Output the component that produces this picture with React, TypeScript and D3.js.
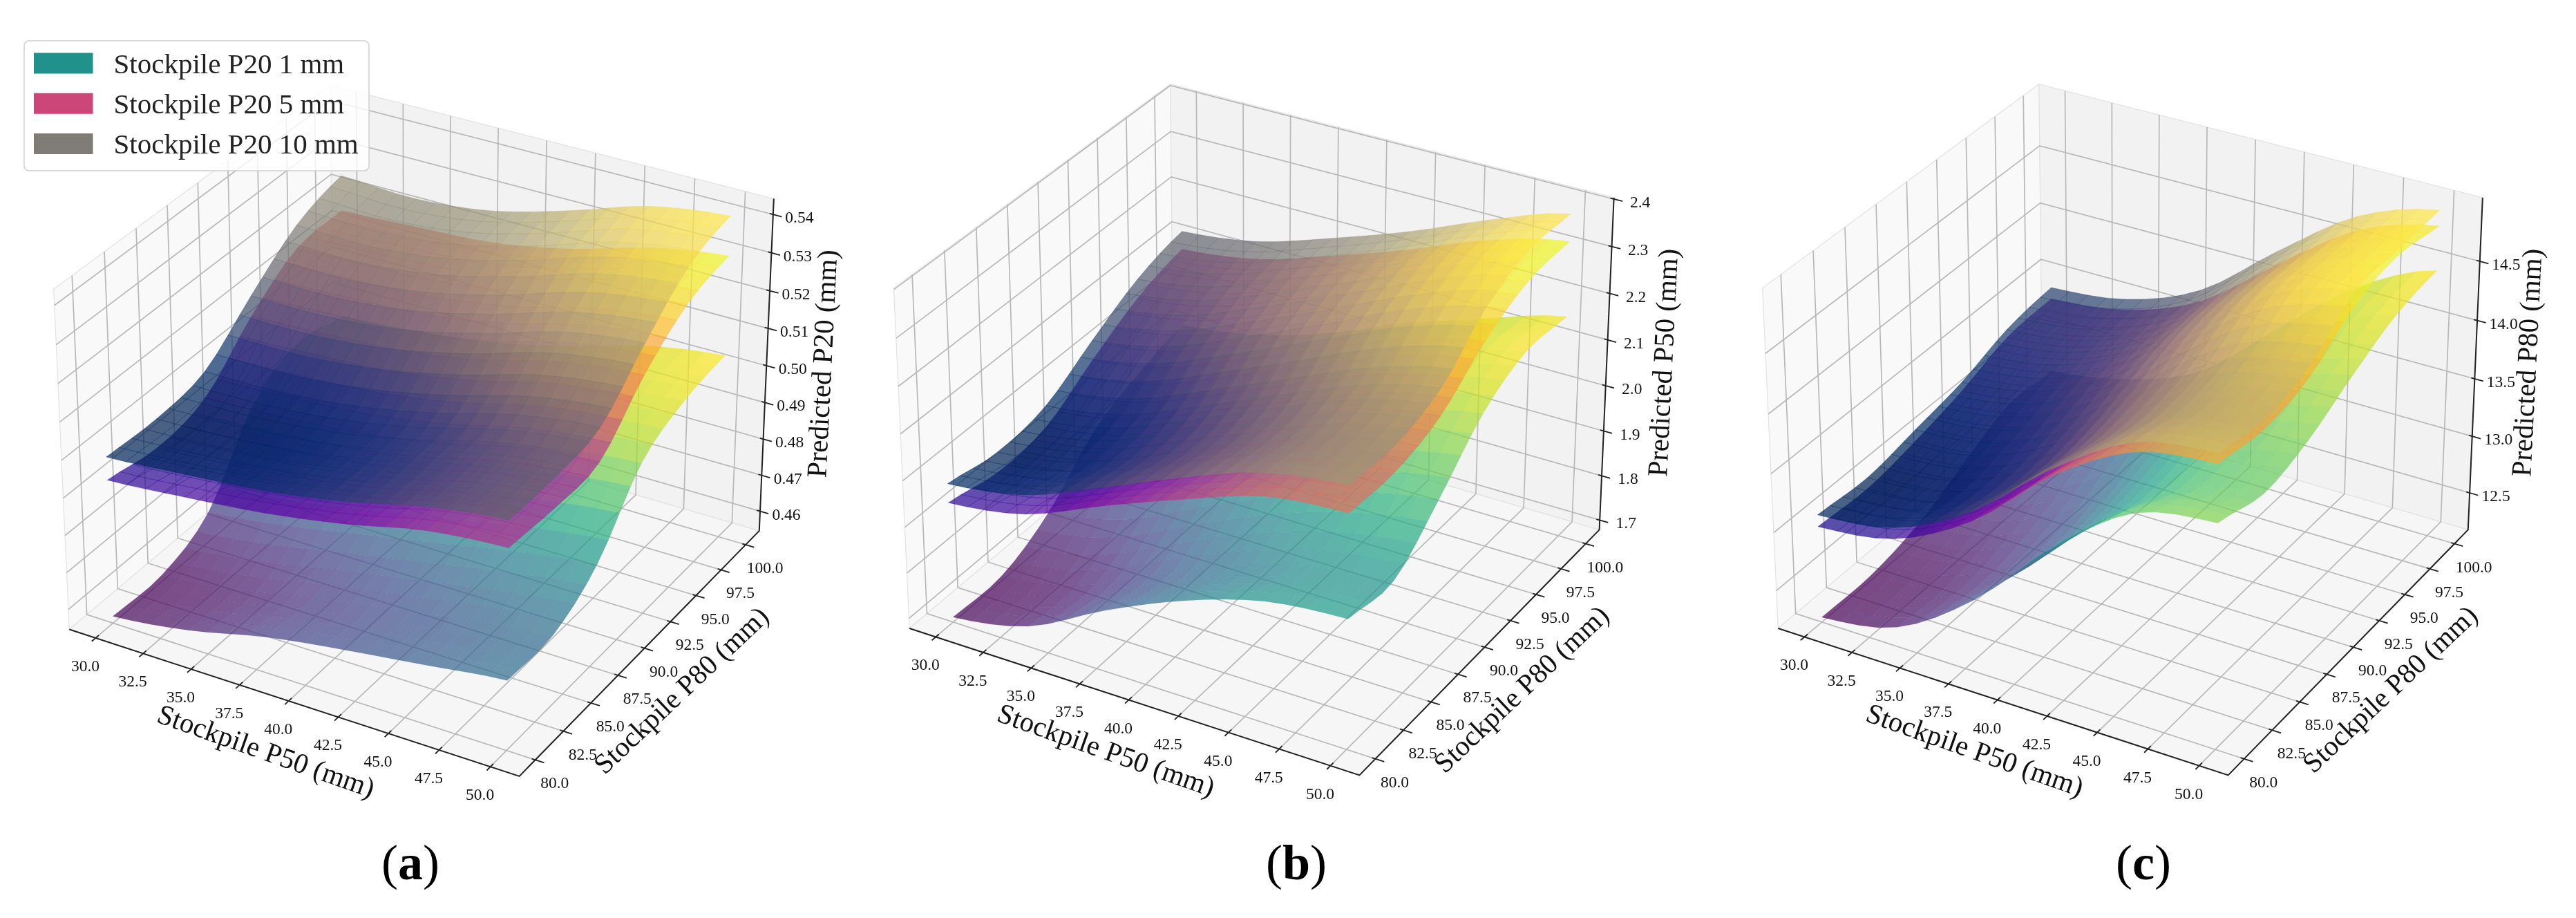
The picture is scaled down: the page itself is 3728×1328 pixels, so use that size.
import * as d3 from 'd3';

const X_TICKS = [30, 32.5, 35, 37.5, 40, 42.5, 45, 47.5, 50];
const Y_TICKS = [80, 82.5, 85, 87.5, 90, 92.5, 95, 97.5, 100];
const X_KNOTS = [30, 34, 38, 42, 46, 50];
const Y_KNOTS = [80, 84, 88, 92, 96, 100];
const X_LIM: [number, number] = [28.6, 51.4];
const Y_LIM: [number, number] = [78.6, 101.4];

// Panel (a) predicted P20, one row per Y knot
const P20_SURFACE_1 = [
  [0.4564, 0.4593, 0.4642, 0.4675, 0.4703, 0.4731],
  [0.4563, 0.4589, 0.4633, 0.4669, 0.4703, 0.4731],
  [0.4627, 0.4653, 0.4693, 0.4733, 0.4775, 0.4806],
  [0.4819, 0.4835, 0.4864, 0.49, 0.4941, 0.4965],
  [0.4887, 0.4898, 0.492, 0.4955, 0.5, 0.5023],
  [0.486, 0.4877, 0.4903, 0.495, 0.501, 0.5042],
];
const P20_SURFACE_5 = [
  [0.4932, 0.495, 0.4972, 0.5007, 0.5054, 0.5074],
  [0.4911, 0.4926, 0.495, 0.4988, 0.504, 0.5065],
  [0.494, 0.495, 0.4967, 0.5002, 0.5052, 0.5075],
  [0.5059, 0.5068, 0.5082, 0.5117, 0.517, 0.5195],
  [0.5144, 0.5151, 0.5163, 0.5197, 0.5251, 0.5278],
  [0.5152, 0.5162, 0.5175, 0.5213, 0.5272, 0.5306],
];
const P20_SURFACE_10 = [
  [0.4993, 0.501, 0.503, 0.5065, 0.5115, 0.5144],
  [0.4988, 0.4998, 0.5019, 0.506, 0.5114, 0.5144],
  [0.5011, 0.5015, 0.5037, 0.508, 0.5136, 0.5165],
  [0.5114, 0.5115, 0.5138, 0.5186, 0.5248, 0.5278],
  [0.5207, 0.5204, 0.5228, 0.528, 0.5345, 0.5376],
  [0.5247, 0.5238, 0.526, 0.5315, 0.5381, 0.541],
];

// Panel (b) predicted P50
const P50_SURFACE_1 = [
  [1.689, 1.723, 1.812, 1.887, 1.939, 1.956],
  [1.689, 1.72, 1.798, 1.87, 1.921, 1.943],
  [1.741, 1.776, 1.854, 1.931, 1.99, 2.025],
  [1.837, 1.871, 1.942, 2.018, 2.079, 2.121],
  [1.883, 1.915, 1.98, 2.056, 2.119, 2.168],
  [1.91, 1.935, 1.986, 2.053, 2.112, 2.162],
];
const P50_SURFACE_5 = [
  [1.94, 1.967, 2.036, 2.101, 2.158, 2.175],
  [1.919, 1.947, 2.015, 2.083, 2.145, 2.172],
  [1.932, 1.962, 2.031, 2.1, 2.166, 2.201],
  [1.995, 2.027, 2.093, 2.162, 2.232, 2.273],
  [2.051, 2.079, 2.14, 2.205, 2.274, 2.317],
  [2.081, 2.104, 2.156, 2.215, 2.28, 2.322],
];
const P50_SURFACE_10 = [
  [1.981, 2.008, 2.074, 2.146, 2.207, 2.232],
  [1.962, 1.99, 2.056, 2.129, 2.196, 2.228],
  [1.978, 2.007, 2.074, 2.146, 2.216, 2.259],
  [2.038, 2.072, 2.14, 2.214, 2.29, 2.343],
  [2.093, 2.122, 2.184, 2.252, 2.325, 2.383],
  [2.121, 2.143, 2.195, 2.254, 2.323, 2.38],
];

// Panel (c) predicted P80
const P80_SURFACE_1 = [
  [12.213, 12.34, 12.786, 13.435, 13.927, 14.05],
  [12.213, 12.315, 12.7, 13.307, 13.786, 13.938],
  [12.31, 12.412, 12.762, 13.353, 13.846, 14.038],
  [12.504, 12.608, 12.924, 13.5, 14.005, 14.238],
  [12.696, 12.795, 13.07, 13.626, 14.139, 14.407],
  [12.67, 12.787, 13.044, 13.601, 14.144, 14.47],
];
const P80_SURFACE_5 = [
  [13.0, 13.101, 13.456, 14.028, 14.421, 14.523],
  [12.976, 13.053, 13.385, 13.939, 14.343, 14.464],
  [13.047, 13.129, 13.445, 13.989, 14.411, 14.558],
  [13.15, 13.261, 13.588, 14.149, 14.614, 14.813],
  [13.296, 13.396, 13.69, 14.225, 14.691, 14.9],
  [13.321, 13.404, 13.661, 14.164, 14.627, 14.84],
];
const P80_SURFACE_10 = [
  [13.1, 13.195, 13.533, 14.084, 14.499, 14.609],
  [13.07, 13.146, 13.463, 14.0, 14.42, 14.546],
  [13.144, 13.225, 13.529, 14.067, 14.502, 14.656],
  [13.227, 13.341, 13.668, 14.232, 14.716, 14.928],
  [13.367, 13.454, 13.737, 14.271, 14.739, 14.947],
  [13.421, 13.498, 13.758, 14.276, 14.747, 14.97],
];

const P20_TICKS = [0.46, 0.47, 0.48, 0.49, 0.5, 0.51, 0.52, 0.53, 0.54];
const P50_TICKS = [1.7, 1.8, 1.9, 2.0, 2.1, 2.2, 2.3, 2.4];
const P80_TICKS = [12.5, 13.0, 13.5, 14.0, 14.5];

const LEGEND = [
  { label: 'Stockpile P20 1 mm', color: d3.interpolateViridis(0.5) },
  { label: 'Stockpile P20 5 mm', color: d3.interpolatePlasma(0.5) },
  { label: 'Stockpile P20 10 mm', color: d3.interpolateCividis(0.5) },
];

const COLOR_MAPS = [d3.interpolateViridis, d3.interpolatePlasma, d3.interpolateCividis];
// the pale facet seams only stay visible on the lowest surface
const SEAM_FILL = [0.12, 0.45, 0.45];

const PANELS = [
  { letter: 'a', tx: 608.4, ty: 600, captionX: 594, zLabelX: 581, zLim: [0.4545, 0.5441], zTicks: P20_TICKS, digits: 2, zLabel: 'Predicted P20 (mm)', grids: [P20_SURFACE_1, P20_SURFACE_5, P20_SURFACE_10] },
  { letter: 'b', tx: 1824.2, ty: 598.5, captionX: 1876, zLabelX: 582, zLim: [1.678, 2.403], zTicks: P50_TICKS, digits: 1, zLabel: 'Predicted P50 (mm)', grids: [P50_SURFACE_1, P50_SURFACE_5, P50_SURFACE_10] },
  { letter: 'c', tx: 3081.4, ty: 598.5, captionX: 3102, zLabelX: 575, zLim: [12.17, 15.03], zTicks: P80_TICKS, digits: 1, zLabel: 'Predicted P80 (mm)', grids: [P80_SURFACE_1, P80_SURFACE_5, P80_SURFACE_10] },
];

const FONT = '"Liberation Serif", serif';
const SCALE_X = 653;
const SCALE_Y = 655;
const STEPS = 4; // drawn facets per knot interval

// mplot3d default camera: elev 30, azim -60, dist 10, box aspect 4:4:3
const BOX = [1.143, 1.143, 0.857];
const U = [0.866, 0.5, 0];
const V = [-0.25, 0.433, 0.866];
const W = [0.433, -0.75, 0.5];
const dot = (a: number[], b: number[]) => a[0] * b[0] + a[1] * b[1] + a[2] * b[2];

function makeProjection(panel: (typeof PANELS)[number]) {
  const bx = d3.scaleLinear().domain(X_LIM).range([-BOX[0] / 2, BOX[0] / 2]);
  const by = d3.scaleLinear().domain(Y_LIM).range([-BOX[1] / 2, BOX[1] / 2]);
  const bz = d3.scaleLinear().domain(panel.zLim).range([-BOX[2] / 2, BOX[2] / 2]);
  const px = d3.scaleLinear().domain([0, 1]).range([panel.tx, panel.tx + SCALE_X]);
  const py = d3.scaleLinear().domain([0, 1]).range([panel.ty, panel.ty - SCALE_Y]);
  const depth = (x: number, y: number, z: number) => dot([bx(x), by(y), bz(z)], W);
  const project = (x: number, y: number, z: number): [number, number] => {
    const o = [bx(x), by(y), bz(z)];
    const f = 10 / (10 - dot(o, W));
    return [px(dot(o, U) * f), py(dot(o, V) * f)];
  };
  return { project, depth };
}

// Catmull-Rom between the read knots, so the drawn mesh is not angular
function smoothLine(values: number[]) {
  const out: number[] = [];
  for (let i = 0; i < values.length - 1; i++) {
    const p0 = values[Math.max(i - 1, 0)];
    const p1 = values[i];
    const p2 = values[i + 1];
    const p3 = values[Math.min(i + 2, values.length - 1)];
    for (let s = 0; s < STEPS; s++) {
      const t = s / STEPS;
      out.push(
        0.5 * (2 * p1 + (p2 - p0) * t + (2 * p0 - 5 * p1 + 4 * p2 - p3) * t * t + (3 * p1 - p0 - 3 * p2 + p3) * t * t * t),
      );
    }
  }
  out.push(values[values.length - 1]);
  return out;
}

function smoothGrid(grid: number[][]) {
  const rows = grid.map(smoothLine);
  const cols = d3.range(rows[0].length).map(j => smoothLine(rows.map(r => r[j])));
  return d3.range(cols[0].length).map(i => cols.map(c => c[i]));
}

const polygon = d3.line();

function Surface({ grid, cmap, seam, proj }: { grid: number[][]; cmap: (t: number) => string; seam: number; proj: ReturnType<typeof makeProjection> }) {
  const fine = smoothGrid(grid);
  const color = d3.scaleSequential(cmap).domain(d3.extent(fine.flat()) as [number, number]);
  const xi = d3.scaleLinear().domain([0, fine[0].length - 1]).range([X_KNOTS[0], X_KNOTS[X_KNOTS.length - 1]]);
  const yi = d3.scaleLinear().domain([0, fine.length - 1]).range([Y_KNOTS[0], Y_KNOTS[Y_KNOTS.length - 1]]);
  const facets = [];
  for (let j = 0; j < fine.length - 1; j++) {
    for (let i = 0; i < fine[0].length - 1; i++) {
      const avg = (fine[j][i] + fine[j][i + 1] + fine[j + 1][i] + fine[j + 1][i + 1]) / 4;
      facets.push({
        key: `${j}-${i}`,
        depth: proj.depth(xi(i + 0.5), yi(j + 0.5), avg),
        fill: color(avg),
        d:
          polygon([
            proj.project(xi(i), yi(j), fine[j][i]),
            proj.project(xi(i + 1), yi(j), fine[j][i + 1]),
            proj.project(xi(i + 1), yi(j + 1), fine[j + 1][i + 1]),
            proj.project(xi(i), yi(j + 1), fine[j + 1][i]),
          ]) + 'Z',
      });
    }
  }
  facets.sort((a, b) => d3.ascending(a.depth, b.depth));
  return (
    <g>
      {facets.map(f => (
        <path key={f.key} d={f.d} fill={f.fill} fillOpacity={0.7} stroke={f.fill} strokeOpacity={seam} strokeWidth={0.8} />
      ))}
    </g>
  );
}

function Panel({ panel }: { panel: (typeof PANELS)[number] }) {
  const proj = makeProjection(panel);
  const p = proj.project;
  const [x0, x1] = X_LIM;
  const [y0, y1] = Y_LIM;
  const [z0, z1] = panel.zLim;
  const xTickLen = (x1 - x0) * 0.025;
  const yTickLen = (y1 - y0) * 0.025;

  const seg = (a: [number, number], b: [number, number]) => polygon([a, b]) as string;
  const quad = (pts: [number, number][]) => polygon(pts) + 'Z';

  const gridPaths = [
    ...X_TICKS.map(x => polygon([p(x, y0, z0), p(x, y1, z0), p(x, y1, z1)]) as string),
    ...Y_TICKS.map(y => polygon([p(x1, y, z0), p(x0, y, z0), p(x0, y, z1)]) as string),
    ...panel.zTicks.map(z => polygon([p(x0, y0, z), p(x0, y1, z), p(x1, y1, z)]) as string),
  ];

  const cx = panel.tx;
  const cy = panel.ty;

  return (
    <g fontFamily={FONT} fill="#111">
      <path d={quad([p(x0, y0, z0), p(x0, y1, z0), p(x0, y1, z1), p(x0, y0, z1)])} fill="#f9f9f9" stroke="#e2e2e2" strokeWidth={1.2} />
      <path d={quad([p(x0, y1, z0), p(x1, y1, z0), p(x1, y1, z1), p(x0, y1, z1)])} fill="#f2f2f2" stroke="#e2e2e2" strokeWidth={1.2} />
      <path d={quad([p(x0, y0, z0), p(x1, y0, z0), p(x1, y1, z0), p(x0, y1, z0)])} fill="#f6f6f6" stroke="#e2e2e2" strokeWidth={1.2} />
      {gridPaths.map((d, i) => (
        <path key={i} d={d} fill="none" stroke="#b8b8b8" strokeWidth={1.7} />
      ))}

      <path d={polygon([p(x0, y0, z0), p(x1, y0, z0), p(x1, y1, z0), p(x1, y1, z1)]) as string} fill="none" stroke="#222" strokeWidth={2} />
      {X_TICKS.map(x => (
        <path key={x} d={seg(p(x, y0 - yTickLen * 0.55, z0), p(x, y0 + yTickLen * 0.45, z0))} stroke="#222" strokeWidth={1.8} />
      ))}
      {Y_TICKS.map(y => (
        <path key={y} d={seg(p(x1 - xTickLen * 0.3, y, z0), p(x1 + xTickLen * 0.75, y, z0))} stroke="#222" strokeWidth={1.8} />
      ))}
      {panel.zTicks.map(z => (
        <path key={z} d={seg(p(x1 - xTickLen * 0.3, y1, z), p(x1 + xTickLen * 0.75, y1, z))} stroke="#222" strokeWidth={1.8} />
      ))}

      {panel.grids.map((grid, i) => (
        <Surface key={i} grid={grid} cmap={COLOR_MAPS[i]} seam={SEAM_FILL[i]} proj={proj} />
      ))}

      <g fontSize={23.5} textAnchor="middle" dominantBaseline="central">
        {X_TICKS.map(x => {
          const [a, b] = p(x, y0, z0);
          return <text key={x} x={a - 15} y={b + 40}>{x.toFixed(1)}</text>;
        })}
        {Y_TICKS.map(y => {
          const [a, b] = p(x1, y, z0);
          return <text key={y} x={a + 28} y={b + 33}>{y.toFixed(1)}</text>;
        })}
        {panel.zTicks.map(z => {
          const [a, b] = p(x1, y1, z);
          return <text key={z} x={a + 38} y={b + 4}>{z.toFixed(panel.digits)}</text>;
        })}
      </g>

      <g fontSize={41} textAnchor="middle" dominantBaseline="central">
        <text transform={`translate(${cx - 223},${cy + 486}) rotate(19.5)`}>Stockpile P50 (mm)</text>
        <text transform={`translate(${cx + 377},${cy + 398}) rotate(-43.4)`}>Stockpile P80 (mm)</text>
        <text transform={`translate(${cx + panel.zLabelX},${cy - 74}) rotate(-87.2)`}>{panel.zLabel}</text>
      </g>

      <text x={panel.captionX} y={1272} fontSize={72} textAnchor="middle" fill="#000">
        (<tspan fontWeight="bold">{panel.letter}</tspan>)
      </text>
    </g>
  );
}

export default function App() {
  const rowY = d3.scalePoint<number>().domain([0, 1, 2]).range([91.5, 208]);
  return (
    <svg
      width={3728}
      height={1328}
      style={{ position: 'absolute', left: 0, top: 0, display: 'block', background: '#fff', filter: 'blur(0.6px)' }}
    >
      {PANELS.map(panel => (
        <Panel key={panel.letter} panel={panel} />
      ))}
      <g fontFamily={FONT} fontSize={41} fill="#222">
        <rect x={35} y={59} width={499} height={188} rx={7} fill="#fff" fillOpacity={0.8} stroke="#d0d0d0" strokeWidth={1.5} />
        {LEGEND.map((item, i) => (
          <g key={item.label}>
            <rect x={49} y={rowY(i)! - 15} width={85.5} height={30} fill={item.color} />
            <text x={164.5} y={rowY(i)} dominantBaseline="central">{item.label}</text>
          </g>
        ))}
      </g>
    </svg>
  );
}
